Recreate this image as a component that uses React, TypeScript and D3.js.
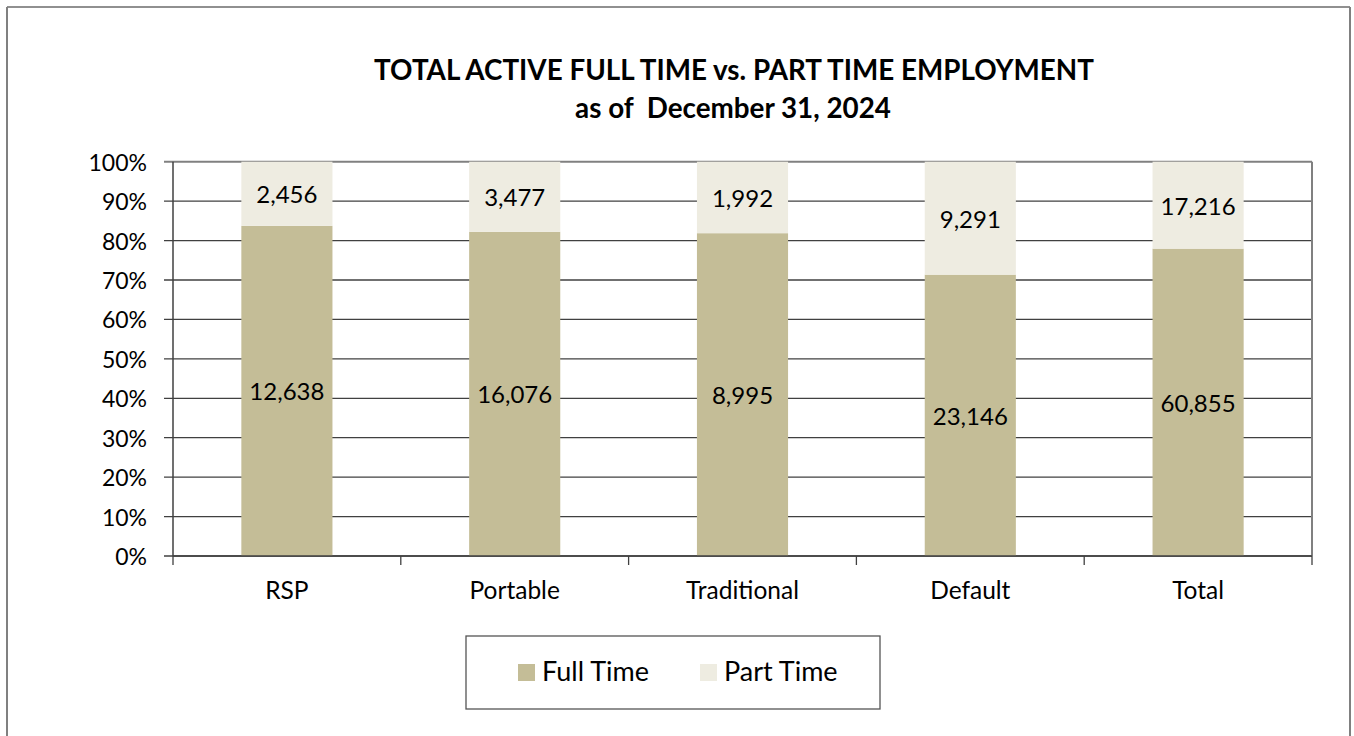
import React from "react";
import * as d3 from "d3";

const categories = ["RSP", "Portable", "Traditional", "Default", "Total"];
const fullTime = [12638, 16076, 8995, 23146, 60855];
const partTime = [2456, 3477, 1992, 9291, 17216];
const seriesNames = ["Full Time", "Part Time"];
const seriesColors = ["#c4bd97", "#eeece1"];
const yTicks = [0, 0.1, 0.2, 0.3, 0.4, 0.5, 0.6, 0.7, 0.8, 0.9, 1.0];
const titleLines = ["TOTAL ACTIVE FULL TIME vs. PART TIME EMPLOYMENT", "as of  December 31, 2024"];

const W = 1354;
const H = 736;
const FONT = "Lato, 'Open Sans', sans-serif";

export default function App() {
  const left = 173, right = 1312, top = 161.7, bottom = 556;
  const x = d3.scaleBand<string>().domain(categories).range([left, right]).paddingInner(0.6).paddingOuter(0.3);
  const y = d3.scaleLinear().domain([0, 1]).range([bottom, top]);
  const step = x.step();
  const fmt = d3.format(",");
  const pct = d3.format(".0%");

  const rows = categories.map((c, i) => {
    const tot = fullTime[i] + partTime[i];
    return { c, f: fullTime[i] / tot, p: partTime[i] / tot, fv: fullTime[i], pv: partTime[i] };
  });

  return (
    <svg width={W} height={H} style={{ position: "absolute", left: 0, top: 0, background: "#fff" }} fontFamily={FONT}>
      <rect x={0} y={0} width={W} height={H} fill="#fff" />
      {/* outer frame */}
      <line x1={7} y1={7} x2={1350} y2={7} stroke="#222" strokeWidth={1.2} />
      <line x1={7} y1={7} x2={7} y2={H} stroke="#808080" strokeWidth={2} />
      <line x1={1350} y1={7} x2={1350} y2={H} stroke="#808080" strokeWidth={2} />

      {/* title */}
      <text x={734} y={80} textAnchor="middle" fontWeight="bold" fontSize={27.8} fill="#000">{titleLines[0]}</text>
      <text x={733} y={118} textAnchor="middle" fontWeight="bold" fontSize={27.8} fill="#000" style={{ whiteSpace: "pre" }}>{titleLines[1]}</text>

      {/* gridlines */}
      {yTicks.map((t) => (
        <line key={"g" + t} x1={left - 9} x2={right} y1={y(t)} y2={y(t)}
          stroke={t === 1 ? "#808080" : "#404040"} strokeWidth={t === 1 ? 2 : 1.3} />
      ))}
      {/* right border of plot */}
      <line x1={right} x2={right} y1={top} y2={bottom} stroke="#808080" strokeWidth={2} />

      {/* bars */}
      {rows.map((r) => {
        const bx = x(r.c)!;
        const bw = x.bandwidth();
        return (
          <g key={r.c}>
            <rect x={bx} y={y(r.f)} width={bw} height={y(0) - y(r.f)} fill={seriesColors[0]} />
            <rect x={bx} y={y(1)} width={bw} height={y(r.f) - y(1)} fill={seriesColors[1]} />
            <text x={bx + bw / 2} y={(y(0) + y(r.f)) / 2} textAnchor="middle" dominantBaseline="central" fontSize={24} fill="#000">{fmt(r.fv)}</text>
            <text x={bx + bw / 2} y={(y(r.f) + y(1)) / 2} textAnchor="middle" dominantBaseline="central" fontSize={24} fill="#000">{fmt(r.pv)}</text>
          </g>
        );
      })}

      {/* axes */}
      <line x1={left} x2={left} y1={top} y2={bottom} stroke="#404040" strokeWidth={1.5} />
      <line x1={left} x2={right} y1={bottom} y2={bottom} stroke="#404040" strokeWidth={1.5} />
      {d3.range(categories.length + 1).map((i) => (
        <line key={"xt" + i} x1={left + i * step} x2={left + i * step} y1={bottom} y2={bottom + 9} stroke="#404040" strokeWidth={1.3} />
      ))}
      {yTicks.map((t) => (
        <text key={"yl" + t} x={147} y={y(t)} textAnchor="end" dominantBaseline="central" fontSize={23} fill="#000">{pct(t)}</text>
      ))}
      {categories.map((c) => (
        <text key={"xl" + c} x={x(c)! + x.bandwidth() / 2} y={599} textAnchor="middle" fontSize={24.5} fill="#000">{c}</text>
      ))}

      {/* legend */}
      <rect x={466} y={636} width={414} height={73} fill="#fff" stroke="#555" strokeWidth={1.3} />
      {seriesNames.map((n, i) => {
        const lx = [518, 700][i];
        return (
          <g key={n}>
            <rect x={lx} y={664} width={17} height={17} fill={seriesColors[i]} />
            <text x={lx + 24} y={681} fontSize={27} fill="#000">{n}</text>
          </g>
        );
      })}
    </svg>
  );
}
